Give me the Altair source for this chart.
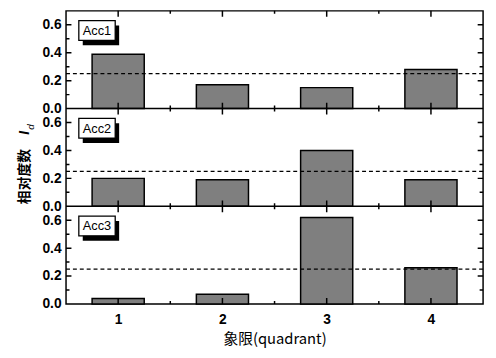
import altair as alt
import pandas as pd

# ---- data ----
panels = ["Acc1", "Acc2", "Acc3"]
quadrants = [1, 2, 3, 4]
acc1 = [0.39, 0.17, 0.15, 0.28]
acc2 = [0.20, 0.19, 0.40, 0.19]
acc3 = [0.04, 0.07, 0.62, 0.26]
mean_line = [0.25, 0.25, 0.25]
y_major = [0.0, 0.2, 0.4, 0.6]
y_minor = [0.1, 0.3, 0.5]
x_major = [1, 2, 3, 4]
x_minor = [1.5, 2.5, 3.5]
y_title = "相对度数"
x_title = "象限(quadrant)"

# ---- layout constants ----
W, H = 424, 298
PANEL_SPAN = 0.7
BAR_HALF = 0.25
n = len(panels)
series = [acc1, acc2, acc3]

xs = alt.Scale(domain=[0.5, 4.5], nice=False, zero=False)
ys = alt.Scale(domain=[0, PANEL_SPAN * n], nice=False, zero=False)

# bars
rows = []
for k, (name, vals) in enumerate(zip(panels, series)):
    off = (n - 1 - k) * PANEL_SPAN
    for q, v in zip(quadrants, vals):
        rows.append(dict(panel=name, x0=q - BAR_HALF, x1=q + BAR_HALF, y0=off, y1=off + v))
bars_df = pd.DataFrame(rows)

# y-axis label positions (stacked panels)
y_vals = []
for k in range(n):
    off = k * PANEL_SPAN
    for v in y_major:
        y_vals.append(round(off + v, 3))

x_axis = alt.Axis(
    values=x_major, format="d", ticks=False, domain=False, grid=False,
    labelFont="Liberation Sans", labelFontSize=14, labelFontWeight="bold",
    labelColor="black", labelPadding=9,
    title=x_title, titleFont="Noto Sans CJK JP", titleFontSize=15,
    titleFontWeight="normal", titleColor="black", titlePadding=5)
y_axis = alt.Axis(
    values=y_vals, labelExpr="format((round(datum.value*10) % 7)/10, '.1f')",
    ticks=False, domain=False, grid=False,
    labelFont="Liberation Sans", labelFontSize=14, labelFontWeight="bold",
    labelColor="black", labelPadding=5, title=None)

bars = alt.Chart(bars_df).mark_rect(fill="#7f7f7f", stroke="black", strokeWidth=1.5).encode(
    x=alt.X("x0:Q", scale=xs, axis=x_axis),
    x2="x1:Q",
    y=alt.Y("y0:Q", scale=ys, axis=y_axis),
    y2="y1:Q",
)

# dashed reference lines
dash_df = pd.DataFrame({"y": [(n - 1 - k) * PANEL_SPAN + m for k, m in enumerate(mean_line)]})
dashes = alt.Chart(dash_df).mark_rule(color="black", strokeWidth=1.2, strokeDash=[4, 3]).encode(
    y=alt.Y("y:Q", scale=ys, axis=y_axis))

# panel separators
sep_df = pd.DataFrame({"y": [k * PANEL_SPAN for k in range(1, n)]})
seps = alt.Chart(sep_df).mark_rule(color="black", strokeWidth=1.5).encode(
    y=alt.Y("y:Q", scale=ys, axis=y_axis))

# x ticks on every panel boundary
xt = []
for b in range(n + 1):
    for v in x_major:
        xt.append(dict(x=v, y=b * PANEL_SPAN, s=12))
    for v in x_minor:
        xt.append(dict(x=v, y=b * PANEL_SPAN, s=6))
xticks = alt.Chart(pd.DataFrame(xt)).mark_tick(
    orient="vertical", color="black", thickness=1.5, opacity=1, clip=True).encode(
    x=alt.X("x:Q", scale=xs, axis=x_axis),
    y=alt.Y("y:Q", scale=ys, axis=y_axis),
    size=alt.Size("s:Q", scale=None, legend=None))

# y ticks on left and right edges
yt = []
for k in range(n):
    off = k * PANEL_SPAN
    for edge in [0.5, 4.5]:
        for v in y_major[1:]:
            yt.append(dict(x=edge, y=off + v, s=11))
        for v in y_minor:
            yt.append(dict(x=edge, y=off + v, s=7))
yticks = alt.Chart(pd.DataFrame(yt)).mark_tick(
    orient="horizontal", color="black", thickness=1.5, opacity=1, clip=True).encode(
    x=alt.X("x:Q", scale=xs, axis=x_axis),
    y=alt.Y("y:Q", scale=ys, axis=y_axis),
    size=alt.Size("s:Q", scale=None, legend=None))

# panel label boxes with shadow
one = pd.DataFrame({"t": [0]})
boxes = []
ph = H / n
for k, name in enumerate(panels):
    top = k * ph
    boxes.append(alt.Chart(one).mark_rect(fill="black").encode(
        x=alt.value(17), x2=alt.value(54), y=alt.value(top + 15), y2=alt.value(top + 35)))
    boxes.append(alt.Chart(one).mark_rect(fill="white", stroke="black", strokeWidth=1.3).encode(
        x=alt.value(13), x2=alt.value(50), y=alt.value(top + 10), y2=alt.value(top + 30)))
    boxes.append(alt.Chart(pd.DataFrame({"t": [name]})).mark_text(
        font="Liberation Sans", fontSize=13, color="black", align="center", baseline="middle").encode(
        text="t:N", x=alt.value(31.5), y=alt.value(top + 20.5)))

# y title with italic I and subscript d
ytitle = alt.Chart(pd.DataFrame({"t": [y_title]})).mark_text(
    font="Noto Sans CJK SC", fontSize=14, fontWeight="bold", angle=270, color="black",
    align="center", baseline="middle").encode(
    text="t:N", x=alt.value(-42), y=alt.value(168.5))
ysym = alt.Chart(pd.DataFrame({"t": ["I"]})).mark_text(
    font="Liberation Sans", fontSize=14, fontStyle="italic", fontWeight="bold", angle=270,
    color="black", align="center", baseline="middle").encode(
    text="t:N", x=alt.value(-42), y=alt.value(124))
ysub = alt.Chart(pd.DataFrame({"t": ["d"]})).mark_text(
    font="Liberation Sans", fontSize=10, fontStyle="italic", angle=270, color="black",
    align="center", baseline="middle").encode(
    text="t:N", x=alt.value(-36), y=alt.value(118))

chart = alt.layer(bars, dashes, seps, xticks, yticks, *boxes, ytitle, ysym, ysub).properties(
    width=W, height=H,
    padding={"left": 59, "top": 0, "right": 5, "bottom": 52},
    autosize=alt.AutoSizeParams(type="none"),
).configure_view(stroke="black", strokeWidth=1.5)

chart.save("out.html", embed_options={"renderer": "svg", "actions": False})
